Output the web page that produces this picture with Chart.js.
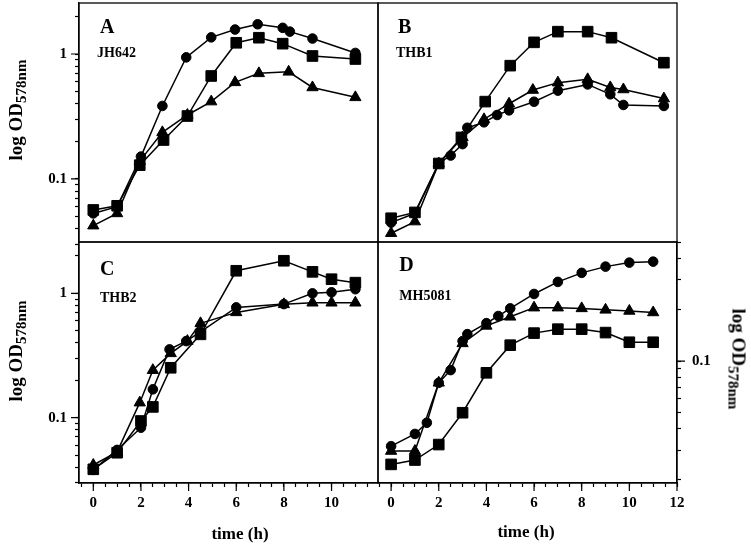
<!DOCTYPE html>
<html><head><meta charset="utf-8">
<script src="https://cdn.jsdelivr.net/npm/chart.js@4.4.0/dist/chart.umd.min.js"></script>
<style>
html,body{margin:0;padding:0;background:#fff;}
#wrap{position:relative;width:751px;height:545px;overflow:hidden;background:#fff;}
canvas{position:absolute;left:-20px;top:-20px;}
.t{position:absolute;font-family:'Liberation Serif','Times New Roman',serif;font-weight:bold;color:#000;white-space:nowrap;line-height:1;}
.t sub{font-size:15px;vertical-align:-4px;}
</style></head><body>
<div id="wrap">
<canvas id="cA" width="791" height="585"></canvas>
<canvas id="cB" width="791" height="585"></canvas>
<canvas id="cC" width="791" height="585"></canvas>
<canvas id="cD" width="791" height="585"></canvas>
<div class="t" style="left:17px;top:110px;font-size:19px;transform:translate(-50%,-50%) rotate(-90deg);">log OD<sub>578nm</sub></div>
<div class="t" style="left:17px;top:351px;font-size:19px;transform:translate(-50%,-50%) rotate(-90deg);">log OD<sub>578nm</sub></div>
<div class="t" style="left:737px;top:359px;font-size:19px;transform:translate(-50%,-50%) rotate(90deg);">log OD<sub>578nm</sub></div>
<div class="t" style="left:240px;top:533px;font-size:17px;transform:translate(-50%,-50%);">time (h)</div>
<div class="t" style="left:526px;top:531px;font-size:17px;transform:translate(-50%,-50%);">time (h)</div>
</div>
<script>
// ---------- DATA ----------
// Panel A (JH642)
const aCircleT  = [0, 1, 2, 2.9, 3.9, 4.95, 5.95, 6.9, 7.95, 8.25, 9.2, 11];
const aCircleOD = [0.053, 0.060, 0.151, 0.384, 0.94, 1.36, 1.57, 1.73, 1.62, 1.51, 1.33, 1.02];
const aSquareT  = [0, 1, 1.95, 2.95, 3.95, 4.95, 6, 6.95, 7.95, 9.2, 11];
const aSquareOD = [0.0565, 0.061, 0.129, 0.205, 0.319, 0.667, 1.23, 1.35, 1.21, 0.964, 0.912];
const aTriT     = [0, 1, 1.95, 2.9, 3.95, 4.95, 5.95, 6.95, 8.2, 9.2, 11];
const aTriOD    = [0.0423, 0.053, 0.139, 0.236, 0.325, 0.416, 0.593, 0.70, 0.72, 0.54, 0.45];
// Panel B (THB1)
const bCircleT  = [0, 1, 2, 2.5, 3, 3.2, 3.9, 4.45, 4.95, 6, 7, 8.25, 9.2, 9.75, 11.45];
const bCircleOD = [0.0447, 0.0531, 0.133, 0.154, 0.19, 0.257, 0.284, 0.325, 0.354, 0.415, 0.509, 0.571, 0.476, 0.391, 0.384];
const bSquareT  = [0, 1, 2, 2.95, 3.95, 5, 6, 7, 8.25, 9.25, 11.45];
const bSquareOD = [0.0485, 0.054, 0.133, 0.215, 0.416, 0.807, 1.24, 1.51, 1.51, 1.35, 0.852];
const bTriT     = [0, 1, 2, 3, 3.9, 4.95, 5.95, 7, 8.25, 9.2, 9.75, 11.45];
const bTriOD    = [0.0368, 0.0456, 0.133, 0.215, 0.30, 0.40, 0.515, 0.59, 0.627, 0.54, 0.52, 0.44];
// Panel C (THB2)
const cCircleT  = [0, 1, 2, 2.5, 3.2, 3.9, 4.5, 6, 8, 9.2, 10, 11];
const cCircleOD = [0.038, 0.055, 0.083, 0.169, 0.354, 0.413, 0.49, 0.771, 0.82, 1.0, 1.02, 1.08];
const cSquareT  = [0, 1, 2, 2.5, 3.25, 4.5, 6, 8, 9.2, 10, 11];
const cSquareOD = [0.0384, 0.0522, 0.094, 0.122, 0.252, 0.468, 1.52, 1.83, 1.49, 1.30, 1.22];
const cTriT     = [0, 1, 1.95, 2.5, 3.25, 3.95, 4.5, 6, 8, 9.2, 10, 11];
const cTriOD    = [0.0416, 0.053, 0.132, 0.241, 0.329, 0.413, 0.574, 0.703, 0.816, 0.84, 0.84, 0.84];
// Panel D (MH5081)
const dCircleT  = [0, 1, 1.5, 2, 2.5, 3, 3.2, 4, 4.5, 5, 6, 7, 8, 9, 10, 11];
const dCircleOD = [0.0316, 0.0373, 0.0434, 0.0745, 0.0885, 0.131, 0.144, 0.167, 0.184, 0.204, 0.248, 0.292, 0.33, 0.359, 0.379, 0.384];
const dSquareT  = [0, 1, 2, 3, 4, 5, 6, 7, 8, 9, 10, 11];
const dSquareOD = [0.0247, 0.0262, 0.0323, 0.0497, 0.0853, 0.124, 0.146, 0.154, 0.154, 0.147, 0.129, 0.129];
const dTriT     = [0, 1, 2, 3, 4, 5, 6, 7, 8, 9, 10, 11];
const dTriOD    = [0.0296, 0.0296, 0.0745, 0.127, 0.161, 0.182, 0.206, 0.206, 0.204, 0.2, 0.197, 0.193];

// Panel texts
const panelLetters = ['A', 'B', 'C', 'D'];
const strainNames  = ['JH642', 'THB1', 'THB2', 'MH5081'];

// Tick values and labels
const xTickValsC   = [-0.5,0,0.5,1,1.5,2,2.5,3,3.5,4,4.5,5,5.5,6,6.5,7,7.5,8,8.5,9,9.5,10,10.5,11,11.5];
const xTickValsD   = [-0.5,0,0.5,1,1.5,2,2.5,3,3.5,4,4.5,5,5.5,6,6.5,7,7.5,8,8.5,9,9.5,10,10.5,11,11.5,12];
const xLabelValsC  = [0, 2, 4, 6, 8, 10];
const xLabelValsD  = [0, 2, 4, 6, 8, 10, 12];
const yTickValsLeft  = [0.03,0.04,0.05,0.06,0.07,0.08,0.09,0.1,0.2,0.3,0.4,0.5,0.6,0.7,0.8,0.9,1,2];
const yTickValsRight = [0.02,0.03,0.04,0.05,0.06,0.07,0.08,0.09,0.1,0.2,0.3,0.4,0.5];
const yLabelValsLeft  = [0.1, 1];
const yLabelTextLeft  = ['0.1', '1'];
const yLabelValsRight = [0.1];
const yLabelTextRight = ['0.1'];

// ---------- RENDERING ----------
const OFF = 20, CW = 791, CH = 585, YW = 40, XH = 50;
const FONT = "'Liberation Serif', 'Times New Roman', serif";

function pts(ts, vs) { return ts.map((t, i) => ({ x: t, y: vs[i] })); }
function ds(ts, vs, style, r) {
  return { data: pts(ts, vs), showLine: true, borderColor: '#000', borderWidth: 1.5,
    pointStyle: style, pointRadius: r, pointHoverRadius: r, pointBackgroundColor: '#000',
    pointBorderColor: '#000', pointBorderWidth: 1, tension: 0, clip: 12 };
}
function near(a, b) { return Math.abs(a - b) < 1e-9; }

const framePlugin = {
  id: 'frame',
  afterDraw(chart, args, o) {
    const ctx = chart.ctx, ca = chart.chartArea;
    ctx.save();
    ctx.strokeStyle = '#000'; ctx.lineWidth = 1.3;
    ctx.strokeRect(ca.left, ca.top, ca.right - ca.left, ca.bottom - ca.top);
    ctx.lineWidth = 1.2;
    ctx.beginPath();
    (o.xMajor || []).forEach(v => {
      const px = chart.scales.x.getPixelForValue(v);
      ctx.moveTo(px, ca.bottom); ctx.lineTo(px, ca.bottom + 8);
    });
    (o.yMajor || []).forEach(v => {
      const py = chart.scales.y.getPixelForValue(v);
      if (o.yPos === 'right') { ctx.moveTo(ca.right, py); ctx.lineTo(ca.right + 8, py); }
      else { ctx.moveTo(ca.left - 8, py); ctx.lineTo(ca.left, py); }
    });
    ctx.stroke();
    ctx.fillStyle = '#000';
    ctx.textBaseline = 'alphabetic'; ctx.textAlign = 'left';
    ctx.font = 'bold 20px ' + FONT;
    ctx.fillText(o.letter, ca.left + o.lx, ca.top + o.ly);
    ctx.font = 'bold 14px ' + FONT;
    ctx.fillText(o.name, ca.left + o.nx, ca.top + o.ny);
    ctx.restore();
  }
};

function panel(id, rect, spec) {
  const l = rect.l + OFF, t = rect.t + OFF, r = rect.r + OFF, b = rect.b + OFF;
  const pad = {
    left: l - (spec.yPos === 'left' ? YW : 0),
    right: CW - r - (spec.yPos === 'right' ? YW : 0),
    top: t,
    bottom: CH - b - (spec.showX ? XH : 0)
  };
  const tickFont = { family: FONT, size: 15, weight: 'bold' };
  new Chart(document.getElementById(id), {
    type: 'scatter',
    data: { datasets: spec.datasets },
    options: {
      responsive: false, animation: false, devicePixelRatio: 1,
      layout: { padding: pad },
      plugins: { legend: { display: false }, tooltip: { enabled: false },
        frame: { xMajor: spec.showX ? spec.xLabels : [], yMajor: spec.yPos ? spec.yLabels : [], yPos: spec.yPos,
                 letter: spec.letter, name: spec.name, lx: spec.lx, ly: spec.ly, nx: spec.nx, ny: spec.ny } },
      scales: {
        x: {
          type: 'linear', min: spec.xMin, max: spec.xMax, display: !!spec.showX, position: 'bottom',
          afterBuildTicks: s => { s.ticks = spec.xTicks.map(v => ({ value: v })); },
          afterFit: s => { s.height = spec.showX ? XH : 0; s.paddingLeft = 0; s.paddingRight = 0; },
          ticks: { autoSkip: false, maxRotation: 0, minRotation: 0, padding: 7, color: '#000', font: tickFont,
            callback: v => spec.xLabels.some(lv => near(lv, v)) ? String(v) : '' },
          grid: { drawOnChartArea: false, drawTicks: true, tickLength: 4, color: '#000', tickWidth: 1.2 },
          border: { display: true, color: '#000', width: 1.3 }
        },
        y: {
          type: 'logarithmic', min: spec.yMin, max: spec.yMax, display: !!spec.yPos, position: spec.yPos || 'left',
          afterBuildTicks: s => { s.ticks = spec.yTicks.map(v => ({ value: v })); },
          afterFit: s => { s.width = spec.yPos ? YW : 0; s.paddingTop = 0; s.paddingBottom = 0; },
          ticks: { autoSkip: false, padding: spec.yPad || 8, color: '#000', font: tickFont,
            callback: v => { const i = spec.yLabels.findIndex(lv => near(lv, v)); return i >= 0 ? spec.yLabelText[i] : ''; } },
          grid: { drawOnChartArea: false, drawTicks: true, tickLength: 4, color: '#000', tickWidth: 1.2 },
          border: { display: true, color: '#000', width: 1.3 }
        }
      }
    },
    plugins: [framePlugin]
  });
}

const R_C = 4.8, R_S = 7.5, R_T = 6.5;

panel('cA', { l: 79, t: 3, r: 378, b: 242 }, {
  datasets: [ds(aTriT, aTriOD, 'triangle', R_T), ds(aSquareT, aSquareOD, 'rect', R_S), ds(aCircleT, aCircleOD, 'circle', R_C)],
  xMin: -0.6, xMax: 11.95, showX: false, xTicks: xTickValsC, xLabels: xLabelValsC,
  yMin: 0.0313, yMax: 2.56, yPos: 'left', yTicks: yTickValsLeft, yLabels: yLabelValsLeft, yLabelText: yLabelTextLeft,
  letter: panelLetters[0], name: strainNames[0], lx: 21, ly: 30, nx: 18, ny: 54.3
});
panel('cB', { l: 378, t: 3, r: 677, b: 242 }, {
  datasets: [ds(bTriT, bTriOD, 'triangle', R_T), ds(bCircleT, bCircleOD, 'circle', R_C), ds(bSquareT, bSquareOD, 'rect', R_S)],
  xMin: -0.55, xMax: 12, showX: false, xTicks: xTickValsD, xLabels: xLabelValsD,
  yMin: 0.0313, yMax: 2.56, yPos: null, yTicks: yTickValsLeft, yLabels: yLabelValsLeft, yLabelText: yLabelTextLeft,
  letter: panelLetters[1], name: strainNames[1], lx: 20, ly: 29.7, nx: 18, ny: 53.7
});
panel('cC', { l: 79, t: 242, r: 378, b: 483 }, {
  datasets: [ds(cTriT, cTriOD, 'triangle', R_T), ds(cCircleT, cCircleOD, 'circle', R_C), ds(cSquareT, cSquareOD, 'rect', R_S)],
  xMin: -0.6, xMax: 11.95, showX: true, xTicks: xTickValsC, xLabels: xLabelValsC,
  yMin: 0.0298, yMax: 2.59, yPos: 'left', yTicks: yTickValsLeft, yLabels: yLabelValsLeft, yLabelText: yLabelTextLeft,
  letter: panelLetters[2], name: strainNames[2], lx: 21, ly: 32.5, nx: 21, ny: 59.5
});
panel('cD', { l: 378, t: 242, r: 677, b: 483 }, {
  datasets: [ds(dTriT, dTriOD, 'triangle', R_T), ds(dSquareT, dSquareOD, 'rect', R_S), ds(dCircleT, dCircleOD, 'circle', R_C)],
  xMin: -0.55, xMax: 12, showX: true, xTicks: xTickValsD, xLabels: xLabelValsD,
  yMin: 0.0192, yMax: 0.501, yPos: 'right', yTicks: yTickValsRight, yLabels: yLabelValsRight, yLabelText: yLabelTextRight, yPad: 11,
  letter: panelLetters[3], name: strainNames[3], lx: 21.3, ly: 29, nx: 21.3, ny: 58
});
</script>
</body></html>
